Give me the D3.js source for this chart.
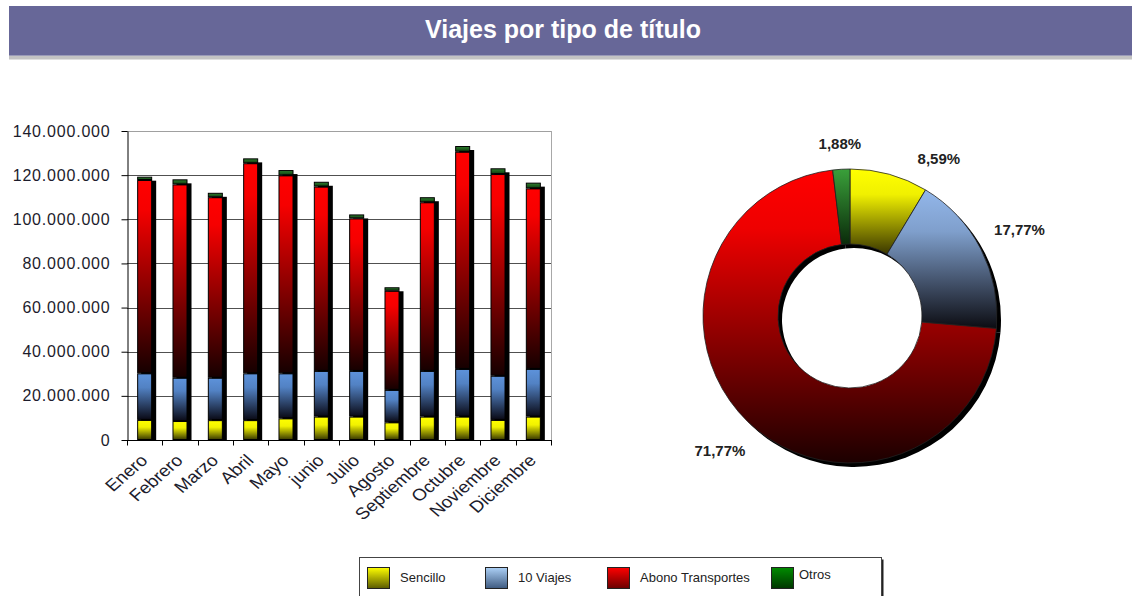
<!DOCTYPE html>
<html>
<head>
<meta charset="utf-8">
<script src="https://cdn.jsdelivr.net/npm/d3@7"></script>
<style>
  body { margin: 0; background: #fff; }
  text { font-family: "Liberation Sans", Arial, sans-serif; }
</style>
</head>
<body>
<div id="viz"></div>
<script>
// values in millions of trips
const months = ["Enero", "Febrero", "Marzo", "Abril", "Mayo", "junio", "Julio",
                "Agosto", "Septiembre", "Octubre", "Noviembre", "Diciembre"];
const sencillo   = [9.1, 8.6, 9.0, 9.0, 9.8, 10.6, 10.6, 8.0, 10.6, 10.6, 9.1, 10.6];
const diezViajes = [21.1, 19.6, 19.2, 21.2, 20.4, 20.7, 20.7, 14.7, 20.7, 21.6, 20.0, 21.6];
const abono      = [87.6, 87.6, 81.8, 95.2, 89.7, 83.5, 69.1, 44.9, 76.4, 98.4, 91.4, 81.8];
const otros      = [1.5, 2.3, 2.0, 2.2, 2.4, 2.2, 1.8, 1.6, 2.3, 2.6, 2.6, 2.6];
const seriesNames = ["Sencillo", "10 Viajes", "Abono Transportes", "Otros"];
const yTicks = [0, 20e6, 40e6, 60e6, 80e6, 100e6, 120e6, 140e6];
const pieShares = [8.59, 17.77, 71.77, 1.88];   // % of annual total

const es = d3.formatLocale({decimal: ",", thousands: ".", grouping: [3], currency: ["", " €"]});
const fmtNum = es.format(",.0f");
const fmtPct = es.format(",.2f");

const rows = months.map((m, i) => ({
  mes: m,
  "Sencillo": sencillo[i] * 1e6,
  "10 Viajes": diezViajes[i] * 1e6,
  "Abono Transportes": abono[i] * 1e6,
  "Otros": otros[i] * 1e6
}));

const W = 1132, H = 596;
const svg = d3.select("#viz").append("svg")
  .attr("width", W).attr("height", H);

const defs = svg.append("defs");
function grad(id, stops) {
  const g = defs.append("linearGradient").attr("id", id)
    .attr("x1", 0).attr("y1", 0).attr("x2", 0).attr("y2", 1);
  stops.forEach(s => g.append("stop").attr("offset", s[0]).attr("stop-color", s[1]));
}
// bars
grad("bar0", [[0, "#ffff00"], [0.35, "#f2f200"], [1, "#3a3a00"]]);
grad("bar1", [[0, "#5d92da"], [0.3, "#5282c4"], [1, "#0a0a16"]]);
grad("bar2", [[0, "#ff0000"], [0.15, "#f60000"], [1, "#160000"]]);
grad("bar3", [[0, "#2f7f2f"], [1, "#0f400f"]]);
// donut
grad("pie0", [[0, "#ffff00"], [0.3, "#f0f000"], [1, "#3a3600"]]);
grad("pie1", [[0, "#93b7ea"], [0.3, "#7f9fcc"], [1, "#0c0c12"]]);
grad("pie2", [[0, "#ff0000"], [0.2, "#ee0000"], [1, "#1c0000"]]);
grad("pie3", [[0, "#3aa03a"], [1, "#0a2a0a"]]);
// legend
grad("leg0", [[0, "#ffff00"], [1, "#5a5a00"]]);
grad("leg1", [[0, "#acd0f6"], [1, "#3e5a80"]]);
grad("leg2", [[0, "#ff0000"], [1, "#6a0000"]]);
grad("leg3", [[0, "#008c00"], [1, "#003600"]]);

// ---- title band ----
svg.append("rect").attr("x", 9).attr("y", 6).attr("width", W - 9).attr("height", 49).attr("fill", "#676798");
svg.append("rect").attr("x", 9).attr("y", 55).attr("width", W - 9).attr("height", 1).attr("fill", "#9a9ab8");
svg.append("rect").attr("x", 9).attr("y", 56).attr("width", W - 9).attr("height", 3).attr("fill", "#c3c3c3");
svg.append("rect").attr("x", 9).attr("y", 59).attr("width", W - 9).attr("height", 1).attr("fill", "#e0e0e0");
svg.append("text")
  .attr("x", 563).attr("y", 38)
  .attr("text-anchor", "middle")
  .attr("fill", "#fff")
  .attr("font-size", 25).attr("font-weight", "bold")
  .text("Viajes por tipo de título");

// ---- stacked bars ----
const plot = {left: 127, right: 551, top: 131, bottom: 440};

const x = d3.scaleBand().domain(months)
  .range([plot.left, plot.right])
  .paddingInner(0.575).paddingOuter(0.2875);
const y = d3.scaleLinear().domain([0, 140e6]).range([plot.bottom, plot.top]);

const stacked = d3.stack().keys(seriesNames)(rows);

// gridlines
svg.append("g")
  .selectAll("line")
  .data(yTicks.slice(1))
  .join("line")
    .attr("x1", plot.left).attr("x2", plot.right)
    .attr("y1", d => Math.round(y(d)) + 0.5).attr("y2", d => Math.round(y(d)) + 0.5)
    .attr("stroke", d => d === 140e6 ? "#a0a0a0" : "#505050");
svg.append("line")
  .attr("x1", plot.right + 0.5).attr("x2", plot.right + 0.5)
  .attr("y1", plot.top).attr("y2", plot.bottom)
  .attr("stroke", "#a8a8a8");

svg.append("clipPath").attr("id", "plotclip")
  .append("rect").attr("x", plot.left).attr("y", 0).attr("width", 460).attr("height", plot.bottom);

// shadows behind the stacks
const topLayer = stacked[stacked.length - 1];
svg.append("g").attr("clip-path", "url(#plotclip)")
  .selectAll("rect")
  .data(topLayer)
  .join("rect")
    .attr("x", d => x(d.data.mes) + 4)
    .attr("y", d => y(d[1]) + 4)
    .attr("width", x.bandwidth())
    .attr("height", d => y(0) - y(d[1]))
    .attr("fill", "#000");

svg.append("g")
  .selectAll("g")
  .data(stacked)
  .join("g")
    .attr("fill", (s, i) => `url(#bar${i})`)
  .selectAll("rect")
  .data(s => s)
  .join("rect")
    .attr("x", d => x(d.data.mes) + 0.5)
    .attr("y", d => y(d[1]) + 0.5)
    .attr("width", x.bandwidth() - 1)
    .attr("height", d => Math.max(0, y(d[0]) - y(d[1]) - 1))
    .attr("stroke", "#000")
    .attr("stroke-width", 1);

// y axis
const yAxis = svg.append("g")
  .attr("transform", `translate(${plot.left + 0.5},0)`)
  .call(d3.axisLeft(y).tickValues(yTicks).tickFormat(fmtNum).tickSize(6).tickSizeOuter(0));
yAxis.select(".domain").attr("stroke", "#000");
yAxis.selectAll(".tick line").attr("stroke", "#000");
yAxis.selectAll(".tick text")
  .attr("x", -17)
  .attr("fill", "#1c1c2c")
  .attr("font-size", 16)
  .attr("letter-spacing", "0.8px")
  .style("font-family", "'Liberation Sans', Arial, sans-serif");

// x axis: ticks between categories
const xAxis = svg.append("g")
  .attr("transform", `translate(0,${plot.bottom + 0.5})`);
xAxis.append("line")
  .attr("x1", plot.left).attr("x2", plot.right + 1)
  .attr("stroke", "#000");
xAxis.selectAll("line.tk")
  .data(d3.range(months.length + 1))
  .join("line").attr("class", "tk")
    .attr("x1", i => Math.round(plot.left + i * x.step()) + 0.5)
    .attr("x2", i => Math.round(plot.left + i * x.step()) + 0.5)
    .attr("y1", 0).attr("y2", 5)
    .attr("stroke", "#000");
// slanted month names, a little wider than tall like the original
xAxis.selectAll("text")
  .data(months)
  .join("text")
    .attr("text-anchor", "end")
    .attr("font-size", 16.5)
    .attr("fill", "#1c1c2c")
    .attr("transform", d => `translate(${x(d) + x.bandwidth() / 2 + 4},${21}) scale(1.15,1) rotate(-45)`)
    .text(d => d);

// ---- donut ----
const cx = 850, cy = 316, rOut = 147, rIn = 72;
const pie = d3.pie().sort(null).value(d => d)(pieShares);
const arc = d3.arc().innerRadius(rIn).outerRadius(rOut);

const donut = svg.append("g").attr("transform", `translate(${cx},${cy})`);
donut.append("g").attr("transform", "translate(4,4)")
  .selectAll("path")
  .data(pie)
  .join("path")
    .attr("d", arc)
    .attr("fill", "#000");
donut.append("g")
  .selectAll("path")
  .data(pie)
  .join("path")
    .attr("d", arc)
    .attr("fill", (d, i) => `url(#pie${i})`)
    .attr("stroke", "#222")
    .attr("stroke-width", 0.8);

// percentage labels outside the ring, pushed apart when they crowd
const labels = donut.append("g")
  .selectAll("text")
  .data(pie)
  .join("text")
    .attr("font-size", 15)
    .attr("font-weight", "bold")
    .attr("fill", "#222")
    .attr("text-anchor", "middle")
    .attr("dy", "0.35em")
    .text(d => fmtPct(d.data) + "%");

function labelPos(a, w) {
  const s = Math.sin(a), c = Math.cos(a);
  const r = rOut + 18 + (w / 2) * Math.abs(s) + 6 * Math.abs(c);
  return [r * s, -r * c];
}
const placed = [];
labels.each(function(d) {
  const w = this.getComputedTextLength();
  d.la = (d.startAngle + d.endAngle) / 2;
  d.w = w;
  placed.push(d);
});
// the last label wraps round to the first: keep them apart
for (let k = 0; k < placed.length; k++) {
  const cur = placed[k], prev = placed[(k + placed.length - 1) % placed.length];
  for (let step = 0; step < 60; step++) {
    const p = labelPos(prev.la, prev.w), q = labelPos(cur.la, cur.w);
    if (Math.abs(q[1] - p[1]) > 30 || Math.abs(q[0] - p[0]) > (cur.w + prev.w) / 2 + 55) break;
    cur.la += Math.PI / 180;
  }
}
labels.attr("transform", d => `translate(${labelPos(d.la, d.w)})`);

// ---- legend ----
const legend = svg.append("g");
legend.append("rect")
  .attr("x", 361.5).attr("y", 559.5).attr("width", 522).attr("height", 60)
  .attr("fill", "#222");
legend.append("rect")
  .attr("x", 359.5).attr("y", 557.5).attr("width", 522).attr("height", 60)
  .attr("fill", "#fff").attr("stroke", "#444");

const legOffsets = {"Sencillo": 367, "10 Viajes": 485, "Abono Transportes": 607, "Otros": 771};
const item = legend.selectAll("g.item")
  .data(seriesNames)
  .join("g").attr("class", "item")
    .attr("transform", d => `translate(${legOffsets[d]},0)`);
item.append("rect")
  .attr("x", 0.5).attr("y", 567.5).attr("width", 22).attr("height", 21)
  .attr("fill", (d, i) => `url(#leg${i})`)
  .attr("stroke", "#222");
item.append("text")
  .attr("x", (d, i) => i === 3 ? 28 : 33)
  .attr("y", (d, i) => i === 3 ? 579 : 582)
  .attr("font-size", 13)
  .attr("fill", "#222")
  .text(d => d);
</script>
</body>
</html>
